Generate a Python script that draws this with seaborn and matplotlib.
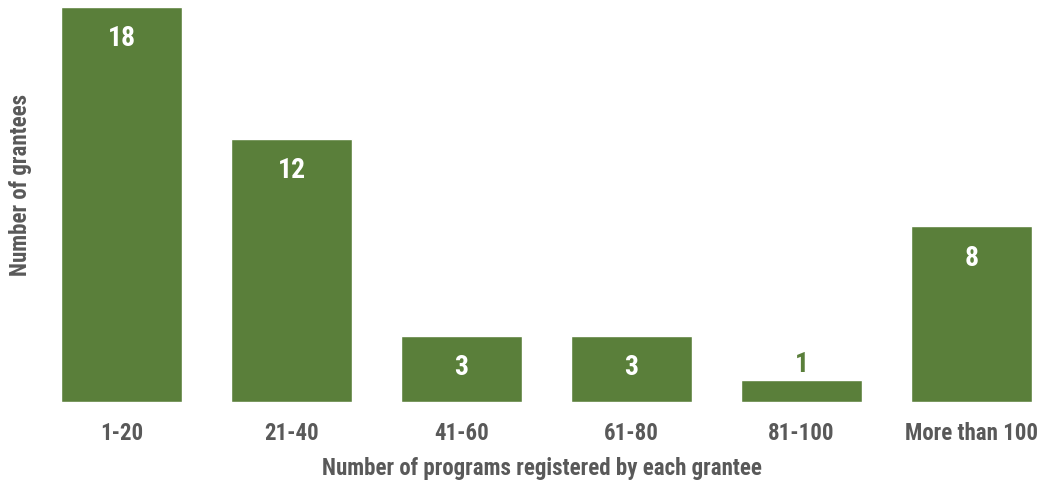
import matplotlib
matplotlib.use('Agg')
import matplotlib.pyplot as plt
from matplotlib import font_manager
import pandas as pd
import seaborn as sns

CATEGORIES = ['1-20', '21-40', '41-60', '61-80', '81-100', 'More than 100']
GRANTEES = [18, 12, 3, 3, 1, 8]

GREEN = '#5A7F3A'
GREY = '#595959'

sns.set_theme(style='white')
names = {f.name for f in font_manager.fontManager.ttflist}
family = [f for f in ['Roboto Condensed', 'Liberation Sans Narrow', 'Liberation Sans']
          if f in names] + ['DejaVu Sans']
plt.rcParams['font.family'] = family

df = pd.DataFrame({'range': CATEGORIES, 'n': GRANTEES})

fig = plt.figure(figsize=(10.44, 4.81), dpi=100)
W, H = 1044, 481
ax = fig.add_axes([40 / W, 1 - 403 / H, (1044 - 40) / W, (403 - 8) / H])

sns.barplot(data=df, x='range', y='n', color=GREEN, saturation=1,
            width=0.71, ax=ax)

slot = 170
ax.set_xlim(-(121.5 - 40) / slot, (1044 - 121.5) / slot)
ax.set_ylim(0, 18)
ax.set_yticks([])
for s in ax.spines.values():
    s.set_visible(False)

# value labels: inside (white) for tall bars, above (green) for the short one
for i, v in enumerate(GRANTEES):
    if v >= 2:
        ax.text(i, v - 1.4, str(v), ha='center', va='center', color='white',
                fontsize=20, fontweight='bold')
    else:
        ax.text(i, v + 0.15, str(v), ha='center', va='bottom', color=GREEN,
                fontsize=20, fontweight='bold')

ax.tick_params(axis='x', length=0, pad=14, labelsize=16.5, labelcolor=GREY)
for lab in ax.get_xticklabels():
    lab.set_fontweight('bold')
ax.set_xlabel('Number of programs registered by each grantee', fontsize=16.5,
              fontweight='bold', color=GREY, labelpad=8)
ax.set_ylabel('Number of grantees', fontsize=16.5, fontweight='bold',
              color=GREY)
ax.yaxis.set_label_coords(-(40 - 32) / (1044 - 40), (403 - 185) / (403 - 8))

fig.savefig('out.png', dpi=100)
